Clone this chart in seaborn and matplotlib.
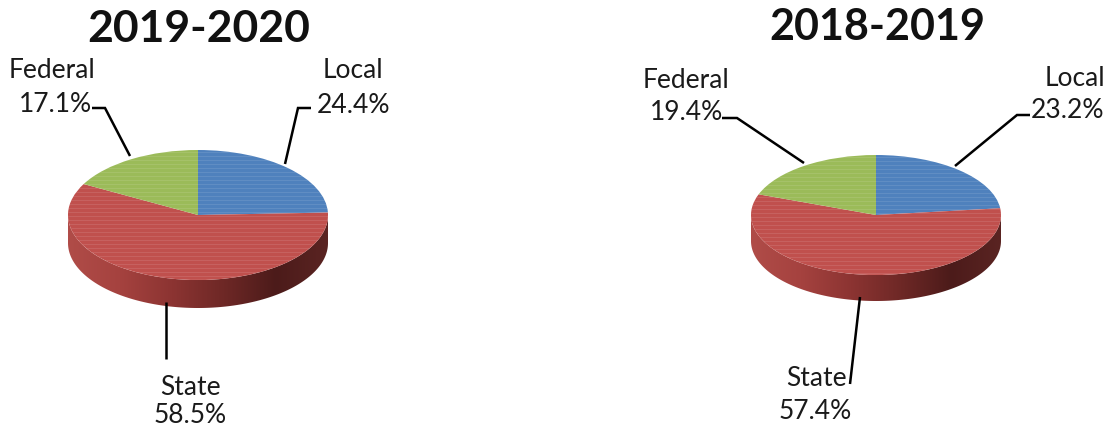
import numpy as np
import matplotlib
matplotlib.use("Agg")
import matplotlib.pyplot as plt
from matplotlib.colors import LinearSegmentedColormap
from matplotlib.patches import PathPatch
from matplotlib.path import Path
import seaborn as sns

# Funding shares by source, clockwise from twelve o'clock
sources = ["Local", "State", "Federal"]
shares_2019 = [24.4, 58.5, 17.1]
shares_2018 = [23.2, 57.4, 19.4]
title_2019 = "2019-2020"
title_2018 = "2018-2019"

sns.set_theme(style="white")
plt.rcParams["font.family"] = ["Lato", "DejaVu Sans"]
palette = sns.color_palette(["#4f81bd", "#c0504d", "#9bbb59"])
wall_cmap = LinearSegmentedColormap.from_list(
    "wall", ["#b04c48", "#a5423f", "#8c3432", "#6e2826", "#4c1b1a", "#5a2422"]
)

W, H = 1111, 431
fig = plt.figure(figsize=(W / 100, H / 100), dpi=100, facecolor="white")


def draw_disc(shares, cx, cy, rx, ry, depth):
    """Draw a tilted pie with a shaded rim; sizes are in pixels."""
    drop = depth / ry
    total_h = (2.5 + drop) * ry
    ax = fig.add_axes([
        (cx - 1.25 * rx) / W,
        1 - (cy - 1.25 * ry + total_h) / H,
        2.5 * rx / W,
        total_h / H,
    ])
    ax.pie(shares, colors=palette, startangle=90, counterclock=False,
           radius=1, wedgeprops={"linewidth": 0})

    # Rim: a horizontal gradient clipped to the band under the front edge
    t = np.linspace(np.pi, 2 * np.pi, 200)
    outline = np.vstack([
        np.column_stack([np.cos(t), np.sin(t)]),
        np.column_stack([np.cos(t[::-1]), np.sin(t[::-1]) - drop]),
    ])
    rim = PathPatch(Path(np.vstack([outline, outline[:1]]), closed=True),
                    transform=ax.transData, facecolor="none", edgecolor="none")
    ax.add_patch(rim)
    grad = np.linspace(0, 1, 256).reshape(1, -1)
    img = ax.imshow(grad, cmap=wall_cmap, aspect="auto", zorder=0,
                    extent=(-1, 1, -1 - drop, 0.05))
    img.set_clip_path(rim)

    # Faint horizontal banding across the whole disc
    ys = np.arange(-1 - drop, 1, 4.0 / ry)
    bands = ax.hlines(ys, -1, 1, color="white", lw=0.8, alpha=0.10, zorder=5)
    t_all = np.linspace(0, 2 * np.pi, 300)
    disc = PathPatch(Path(np.column_stack([np.cos(t_all), np.sin(t_all)]), closed=True),
                     transform=ax.transData, facecolor="none", edgecolor="none")
    ax.add_patch(disc)
    bands.set_clip_path(disc)

    ax.set_aspect("auto")
    ax.set_xlim(-1.25, 1.25)
    ax.set_ylim(-1.25 - drop, 1.25)
    ax.set_axis_off()


draw_disc(shares_2019, 198, 216, 130, 65, 28)
draw_disc(shares_2018, 876, 216, 125, 60, 26)

# Overlay in pixel coordinates for titles, labels and leader lines
ov = fig.add_axes([0, 0, 1, 1], zorder=10)
ov.set_xlim(0, W)
ov.set_ylim(H, 0)
ov.set_axis_off()
ov.patch.set_alpha(0)


def label(x, y, name, value):
    ov.text(x[0], y[0], name, ha="center", va="center", fontsize=19, color="#1a1a1a")
    ov.text(x[1], y[1], f"{value:.1f}%", ha="center", va="center", fontsize=19, color="#1a1a1a")


def leader(xs, ys):
    ov.plot(xs, ys, color="black", lw=1.8, solid_capstyle="butt", solid_joinstyle="miter")


ov.text(199, 29, title_2019, ha="center", va="center", fontsize=32, fontweight="bold", color="#111111")
ov.text(877, 27, title_2018, ha="center", va="center", fontsize=31, fontweight="bold", color="#111111")

label((52, 55), (70, 105), sources[2], shares_2019[2])
label((353, 353), (70, 106), sources[0], shares_2019[0])
label((190, 190), (388, 416), sources[1], shares_2019[1])
label((686, 687), (81, 113), sources[2], shares_2018[2])
label((1075, 1068), (79, 111), sources[0], shares_2018[0])
label((816, 815), (379, 412), sources[1], shares_2018[1])

leader([92, 105, 130], [109, 109, 157])
leader([311, 298, 285], [109, 109, 165])
leader([166, 166], [303, 360])
leader([722, 737, 804], [119, 119, 164])
leader([1030, 1017, 955], [116, 116, 167])
leader([860, 850], [298, 385])

fig.savefig("out.png", dpi=100)
